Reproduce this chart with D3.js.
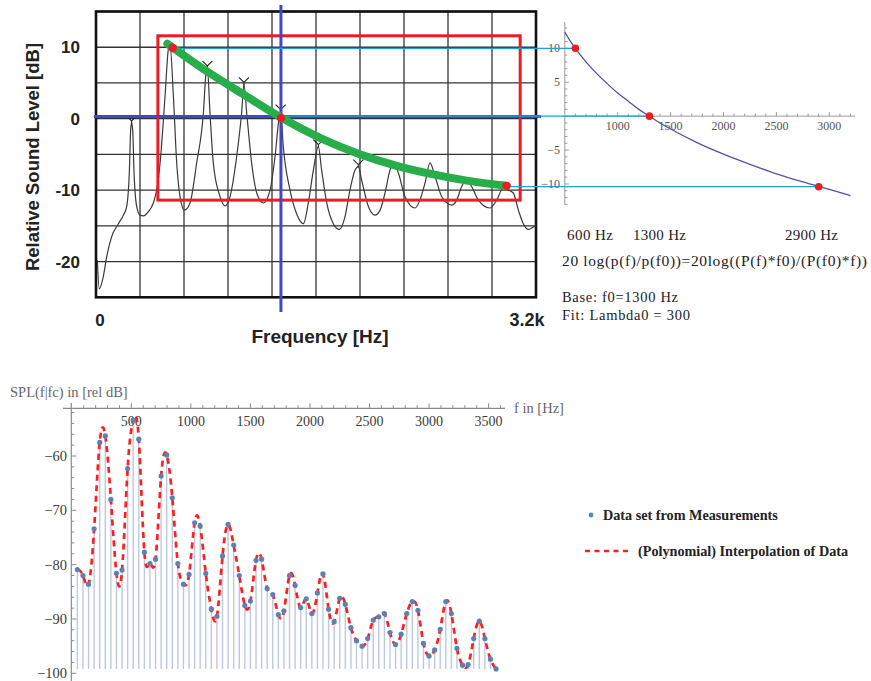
<!DOCTYPE html>
<html>
<head>
<meta charset="utf-8">
<script src="https://cdn.jsdelivr.net/npm/d3@7"></script>
<style>
  html, body { margin: 0; padding: 0; background: #fff; }
  svg { display: block; }
</style>
</head>
<body>
<svg id="fig" width="871" height="681"></svg>
<script>
// ---------------- data ----------------
// Analyser trace of the measured response: frequency (Hz) and level (dB)
const respFreq = [10, 24, 53, 78, 114, 163, 199, 223, 243, 252, 259, 267, 276, 296, 320, 344, 381, 417, 441, 466,
  502, 526, 538, 563, 587, 611, 643, 684, 732, 781, 800, 810, 829, 853, 902, 938, 975, 1023, 1059, 1076,
  1096, 1132, 1169, 1217, 1266, 1302, 1333, 1343, 1362, 1411, 1459, 1508, 1544, 1581, 1617, 1641, 1678, 1726, 1770, 1811,
  1847, 1884, 1908, 1932, 1981, 2029, 2066, 2102, 2138, 2162, 2199, 2247, 2320, 2356, 2393, 2429, 2466, 2514, 2587, 2623,
  2659, 2696, 2732, 2781, 2865, 2914, 2962, 2999, 3035, 3072, 3108, 3144, 3198];
const respLevel = [-19.8, -23.8, -22.1, -19.3, -16.5, -14.7, -13.5, -12.3, -7.2, -1.6, -0.6, -1.6, -7.2, -12.3, -13.5, -13.6, -13.0, -11.8, -10.0, -6.2,
  3.1, 9.7, 10.4, 3.1, -6.2, -10.9, -12.8, -11.8, -6.2, 0.8, 6.4, 7.1, 0.8, -6.2, -10.9, -12.2, -10.9, -5.3, 0.8, 4.8,
  0.8, -6.2, -10.4, -11.8, -10.0, -5.3, 0.3, 1.0, -3.9, -10.0, -13.3, -14.7, -11.8, -7.2, -3.9, -7.2, -11.8, -14.7, -15.5, -13.7,
  -10.0, -7.2, -6.7, -8.6, -12.3, -13.5, -12.8, -10.4, -7.2, -6.2, -7.6, -10.9, -12.5, -11.4, -9.0, -6.2, -8.1, -10.9, -12.1, -11.4,
  -9.5, -8.6, -9.5, -11.4, -12.5, -11.4, -9.7, -10.0, -10.4, -12.8, -14.7, -15.5, -14.9];

// Harmonic peaks carrying the analyser's small peak markers
const markedFreq = [259, 810, 1076, 1343, 1617, 1908];
const markedLevel = [-0.6, 7.1, 4.8, 1.0, -3.9, -6.7];

// Level trend drawn through the harmonic peaks
const trendFreq = [519, 809, 1072, 1343, 1653, 1908, 2187, 2453, 2708, 2987];
const trendLevel = [10.5, 6.6, 3.4, 0.2, -2.9, -4.9, -6.6, -7.8, -8.7, -9.4];

// Selected harmonics (2nd, 5th, 11th) on the trace
const pickFreq = [558, 1345, 2985];
const pickLevel = [9.9, 0.1, -9.4];

// Fitted level curve, relative to f0 = 1300 Hz
const fitFreq = [500, 550, 600, 700, 800, 900, 1000, 1100, 1200, 1300, 1400, 1500, 1750, 2000, 2250, 2500, 2750, 3000, 3200];
const fitLevel = [12.4, 11.1, 10.0, 8.0, 6.3, 4.8, 3.4, 2.2, 1.0, 0.0, -1.0, -1.9, -3.9, -5.6, -7.1, -8.5, -9.7, -10.8, -11.7];
const baseFreq = [600, 1300, 2900];
const baseLevel = [10, 0, -10.4];
const baseLabels = ["600 Hz", "1300 Hz", "2900 Hz"];

// Measured SPL spectrum (46.875 Hz bins)
const splFreq = [46.9, 93.8, 140.6, 187.5, 234.4, 281.3, 328.1, 375.0, 421.9, 468.8,
  515.6, 562.5, 609.4, 656.3, 703.1, 750.0, 796.9, 843.8, 890.6, 937.5,
  984.4, 1031.3, 1078.1, 1125.0, 1171.9, 1218.8, 1265.6, 1312.5, 1359.4, 1406.3,
  1453.1, 1500.0, 1546.9, 1593.8, 1640.6, 1687.5, 1734.4, 1781.3, 1828.1, 1875.0,
  1921.9, 1968.8, 2015.6, 2062.5, 2109.4, 2156.3, 2203.1, 2250.0, 2296.9, 2343.8,
  2390.6, 2437.5, 2484.4, 2531.3, 2578.1, 2625.0, 2671.9, 2718.8, 2765.6, 2812.5,
  2859.4, 2906.3, 2953.1, 3000.0, 3046.9, 3093.8, 3140.6, 3187.5, 3234.4, 3281.3,
  3328.1, 3375.0, 3421.9, 3468.8, 3515.6, 3562.5];
const splLevel = [-80.9, -82.0, -83.6, -73.4, -57.5, -56.3, -68.0, -81.6, -81.0, -62.3,
  -53.4, -56.9, -77.7, -79.8, -79.0, -63.7, -59.8, -67.7, -79.8, -83.6,
  -81.8, -72.3, -72.9, -81.6, -88.2, -89.5, -78.4, -72.6, -76.4, -82.0,
  -87.5, -86.7, -79.2, -79.0, -84.4, -85.5, -89.2, -88.5, -82.0, -83.8,
  -87.9, -86.3, -89.0, -85.2, -81.7, -88.2, -90.5, -86.2, -87.3, -91.6,
  -94.0, -95.0, -93.6, -90.2, -89.6, -89.0, -92.5, -94.7, -92.8, -89.0,
  -86.8, -88.4, -94.5, -96.8, -95.7, -91.9, -86.8, -89.0, -95.4, -98.5,
  -98.4, -93.6, -90.4, -93.6, -97.4, -99.2];

const freqTicksL = [0, 320, 640, 960, 1280, 1600, 1920, 2240, 2560, 2880, 3200];
const levelTicksL = [-25, -20, -15, -10, -5, 0, 5, 10, 15];
const levelLabelsL = [10, 0, -10, -20];
const freqTicksR = [1000, 1500, 2000, 2500, 3000];
const levelTicksR = [10, 5, -5, -10];
const freqTicksB = [500, 1000, 1500, 2000, 2500, 3000, 3500];
const levelTicksB = [-60, -70, -80, -90, -100];

const SANS = "'Liberation Sans', Arial, sans-serif";
const SERIF = "'Liberation Serif', 'Times New Roman', serif";

const svg = d3.select("#fig");
svg.append("rect").attr("width", 871).attr("height", 681).attr("fill", "#fff");

// ================= Analyser plot (top left) =================
const xL = d3.scaleLinear().domain([0, 3200]).range([96, 536]);
const yL = d3.scaleLinear().domain([-25, 15]).range([297.3, 11.5]);
const gL = svg.append("g");

gL.selectAll("line.vgrid").data(freqTicksL).join("line")
  .attr("x1", d => xL(d)).attr("x2", d => xL(d))
  .attr("y1", yL(15)).attr("y2", yL(-25))
  .attr("stroke", "#333").attr("stroke-width", 1.3);
gL.selectAll("line.hgrid").data(levelTicksL).join("line")
  .attr("x1", xL(0)).attr("x2", xL(3200))
  .attr("y1", d => yL(d)).attr("y2", d => yL(d))
  .attr("stroke", "#333").attr("stroke-width", 1.3);
gL.append("rect")
  .attr("x", xL(0)).attr("y", yL(15))
  .attr("width", xL(3200) - xL(0)).attr("height", yL(-25) - yL(15))
  .attr("fill", "none").attr("stroke", "#111").attr("stroke-width", 2.6);

// measured trace
gL.append("path")
  .datum(respFreq.map((f, i) => [f, respLevel[i]]))
  .attr("d", d3.line().x(d => xL(d[0])).y(d => yL(d[1])).curve(d3.curveMonotoneX))
  .attr("fill", "none").attr("stroke", "#3a3a3a").attr("stroke-width", 1.2);

// peak markers
gL.selectAll("path.pk").data(markedFreq.map((f, i) => [f, markedLevel[i]])).join("path")
  .attr("d", d => {
    const x = xL(d[0]), y = yL(d[1]) - 2;
    return `M${x - 5},${y - 5}L${x},${y}L${x + 5},${y - 5}M${x},${y}L${x},${y + 3}`;
  })
  .attr("fill", "none").attr("stroke", "#222").attr("stroke-width", 1.1);

// axis labels
gL.selectAll("text.yl").data(levelLabelsL).join("text")
  .attr("x", 80).attr("y", d => yL(d) + 6)
  .attr("text-anchor", "end")
  .attr("font-family", SANS).attr("font-weight", "bold").attr("font-size", 17)
  .attr("fill", "#222").text(d => d);
gL.append("text").attr("x", 100).attr("y", 326).attr("text-anchor", "middle")
  .attr("font-family", SANS).attr("font-weight", "bold").attr("font-size", 17).attr("fill", "#222").text("0");
gL.append("text").attr("x", 527).attr("y", 326).attr("text-anchor", "middle")
  .attr("font-family", SANS).attr("font-weight", "bold").attr("font-size", 18).attr("fill", "#222").text("3.2k");
gL.append("text").attr("x", 320).attr("y", 343).attr("text-anchor", "middle")
  .attr("font-family", SANS).attr("font-weight", "bold").attr("font-size", 19).attr("fill", "#222").text("Frequency [Hz]");
gL.append("text").attr("transform", "translate(39,157) rotate(-90)").attr("text-anchor", "middle")
  .attr("font-family", SANS).attr("font-weight", "bold").attr("font-size", 18.5).attr("fill", "#222").text("Relative Sound Level [dB]");

// ================= Fit plot (top right) =================
const xR = d3.scaleLinear().domain([1000, 3000]).range([617.7, 829.3]);
const yR = d3.scaleLinear().domain([-10, 10]).range([184, 48.3]);
const gR = svg.append("g");
const axisGray = "#9a9a9a";

gR.append("line").attr("x1", xR(500)).attr("x2", 855).attr("y1", yR(0)).attr("y2", yR(0))
  .attr("stroke", axisGray).attr("stroke-width", 1);
gR.append("line").attr("x1", xR(500)).attr("x2", xR(500)).attr("y1", 22).attr("y2", 205)
  .attr("stroke", axisGray).attr("stroke-width", 1);
const minorR = d3.range(600, 3201, 100);
gR.selectAll("line.xt").data(minorR).join("line")
  .attr("x1", d => xR(d)).attr("x2", d => xR(d))
  .attr("y1", yR(0)).attr("y2", d => yR(0) - (d % 500 === 0 ? 4 : 2.5))
  .attr("stroke", axisGray).attr("stroke-width", 1);
const minorRy = d3.range(-13, 14, 1).filter(d => d !== 0);
gR.selectAll("line.yt").data(minorRy).join("line")
  .attr("x1", xR(500)).attr("x2", d => xR(500) + (d % 5 === 0 ? 4 : 2.5))
  .attr("y1", d => yR(d)).attr("y2", d => yR(d))
  .attr("stroke", axisGray).attr("stroke-width", 1);
gR.selectAll("text.xl").data(freqTicksR).join("text")
  .attr("x", d => xR(d)).attr("y", yR(0) + 14).attr("text-anchor", "middle")
  .attr("font-family", SERIF).attr("font-size", 12).attr("fill", "#555").text(d => d);
gR.selectAll("text.ylr").data(levelTicksR).join("text")
  .attr("x", 560).attr("y", d => yR(d) + 4).attr("text-anchor", "end")
  .attr("font-family", SERIF).attr("font-size", 12).attr("fill", "#555")
  .text(d => d < 0 ? "\u2212" + Math.abs(d) : d);

gR.append("path")
  .datum(fitFreq.map((f, i) => [f, fitLevel[i]]))
  .attr("d", d3.line().x(d => xR(d[0])).y(d => yR(d[1])).curve(d3.curveMonotoneX))
  .attr("fill", "none").attr("stroke", "#5252a6").attr("stroke-width", 1.3);

// ================= Annotations across both top plots =================
const gA = svg.append("g");
// red selection box
gA.append("rect")
  .attr("x", xL(450)).attr("y", yL(11.6))
  .attr("width", xL(3085) - xL(450)).attr("height", yL(-11.4) - yL(11.6))
  .attr("fill", "none").attr("stroke", "#ec1c24").attr("stroke-width", 3);
// blue cross at the base frequency
gA.append("line").attr("x1", 94).attr("x2", 541).attr("y1", yL(0.3)).attr("y2", yL(0.3))
  .attr("stroke", "#4545c8").attr("stroke-width", 3);
gA.append("line").attr("x1", xL(pickFreq[1])).attr("x2", xL(pickFreq[1])).attr("y1", 5).attr("y2", 312)
  .attr("stroke", "#4545c8").attr("stroke-width", 3);
// connectors from the trace to the fit plot
gA.selectAll("line.conn").data(d3.range(3)).join("line")
  .attr("x1", i => xL(pickFreq[i])).attr("x2", i => xR(baseFreq[i]))
  .attr("y1", i => yR(baseLevel[i])).attr("y2", i => yR(baseLevel[i]))
  .attr("stroke", "#1ea0e0").attr("stroke-width", 1.2);
// trend line
gA.append("path")
  .datum(trendFreq.map((f, i) => [f, trendLevel[i]]))
  .attr("d", d3.line().x(d => xL(d[0])).y(d => yL(d[1])).curve(d3.curveCatmullRom))
  .attr("fill", "none").attr("stroke", "#27ae4a").attr("stroke-width", 8).attr("stroke-linecap", "round");
// picked harmonics and fit points
gA.selectAll("circle.pick").data(d3.range(3)).join("circle")
  .attr("cx", i => xL(pickFreq[i])).attr("cy", i => yL(pickLevel[i])).attr("r", 4.2)
  .attr("fill", "#ec1c24");
gA.selectAll("circle.base").data(d3.range(3)).join("circle")
  .attr("cx", i => xR(baseFreq[i])).attr("cy", i => yR(baseLevel[i])).attr("r", 3.8)
  .attr("fill", "#ec1c24");

// notes under the fit plot
const gN = svg.append("g").attr("font-family", SERIF).attr("fill", "#222");
const labelX = [567, 633, 785];
const labelW = [46, 53, 53];
gN.selectAll("text.bl").data(baseLabels).join("text")
  .attr("x", (d, i) => labelX[i]).attr("y", 240).attr("font-size", 15)
  .attr("textLength", (d, i) => labelW[i]).attr("lengthAdjust", "spacing").text(d => d);
gN.append("text").attr("x", 562).attr("y", 265.5).attr("font-size", 15.5)
  .attr("textLength", 305).attr("lengthAdjust", "spacing")
  .text("20 log(p(f)/p(f0))=20log((P(f)*f0)/(P(f0)*f))");
gN.append("text").attr("x", 562).attr("y", 302).attr("font-size", 14.5)
  .attr("textLength", 116).attr("lengthAdjust", "spacing").text("Base: f0=1300 Hz");
gN.append("text").attr("x", 562).attr("y", 320).attr("font-size", 14.5)
  .attr("textLength", 128).attr("lengthAdjust", "spacing").text("Fit: Lambda0 = 300");

// ================= SPL spectrum (bottom) =================
const xB = d3.scaleLinear().domain([0, 3500]).range([71.8, 488.6]);
const yB = d3.scaleLinear().domain([-100, -60]).range([673.3, 456]);
const gB = svg.append("g");
const axisY = 408.3, axisX = 71.3;
const floorLevel = d3.min(splLevel);

// stems
gB.selectAll("line.stem").data(splFreq.map((f, i) => [f, splLevel[i]])).join("line")
  .attr("x1", d => xB(d[0])).attr("x2", d => xB(d[0]))
  .attr("y1", d => yB(d[1])).attr("y2", yB(floorLevel))
  .attr("stroke", "#bccadf").attr("stroke-width", 1.4);

// axes
gB.append("line").attr("x1", 63).attr("x2", 505).attr("y1", axisY).attr("y2", axisY)
  .attr("stroke", "#8a8a8a").attr("stroke-width", 1.2);
gB.append("line").attr("x1", axisX).attr("x2", axisX).attr("y1", 403).attr("y2", 681)
  .attr("stroke", "#8a8a8a").attr("stroke-width", 1.2);
gB.selectAll("line.bxt").data(d3.range(100, 3601, 100)).join("line")
  .attr("x1", d => xB(d)).attr("x2", d => xB(d))
  .attr("y1", axisY).attr("y2", d => axisY - (d % 500 === 0 ? 5 : 3))
  .attr("stroke", "#8a8a8a").attr("stroke-width", 1);
gB.selectAll("line.byt").data(d3.range(-100, -51, 2)).join("line")
  .attr("x1", axisX).attr("x2", d => axisX + (d % 10 === 0 ? 5 : 3))
  .attr("y1", d => yB(d)).attr("y2", d => yB(d))
  .attr("stroke", "#8a8a8a").attr("stroke-width", 1);
gB.selectAll("text.bxl").data(freqTicksB).join("text")
  .attr("x", d => xB(d)).attr("y", axisY + 18).attr("text-anchor", "middle")
  .attr("font-family", SERIF).attr("font-size", 14).attr("fill", "#3c3c3c").text(d => d);
gB.selectAll("text.byl").data(levelTicksB).join("text")
  .attr("x", 67).attr("y", d => yB(d) + 5).attr("text-anchor", "end")
  .attr("font-family", SERIF).attr("font-size", 14.5).attr("fill", "#3c3c3c")
  .text(d => "\u2212" + Math.abs(d));
gB.append("text").attr("x", 10).attr("y", 397).attr("font-family", SERIF).attr("font-size", 14.5)
  .attr("fill", "#666").text("SPL(f|fc) in [rel dB]");
gB.append("text").attr("x", 514).attr("y", 413).attr("font-family", SERIF).attr("font-size", 14.5)
  .attr("fill", "#666").text("f in [Hz]");

// interpolation through the measurements
gB.append("path")
  .datum(splFreq.map((f, i) => [f, splLevel[i]]))
  .attr("d", d3.line().x(d => xB(d[0])).y(d => yB(d[1])).curve(d3.curveNatural))
  .attr("fill", "none").attr("stroke", "#ff1f1f").attr("stroke-width", 2.7)
  .attr("stroke-dasharray", "6,4.5");

// measured points
gB.selectAll("circle.pt").data(splFreq.map((f, i) => [f, splLevel[i]])).join("circle")
  .attr("cx", d => xB(d[0])).attr("cy", d => yB(d[1])).attr("r", 2.6)
  .attr("fill", "#5e81b5");

// legend
const gLeg = svg.append("g").attr("font-family", SERIF).attr("font-weight", "bold")
  .attr("font-size", 14.2).attr("fill", "#222");
gLeg.append("circle").attr("cx", 591).attr("cy", 515).attr("r", 2.4).attr("fill", "#5e81b5");
gLeg.append("text").attr("x", 603).attr("y", 520).text("Data set from Measurements");
gLeg.append("line").attr("x1", 585).attr("x2", 629).attr("y1", 551).attr("y2", 551)
  .attr("stroke", "#ff1f1f").attr("stroke-width", 2.4).attr("stroke-dasharray", "5,4.5");
gLeg.append("text").attr("x", 638).attr("y", 556).text("(Polynomial) Interpolation of Data");
</script>
</body>
</html>
